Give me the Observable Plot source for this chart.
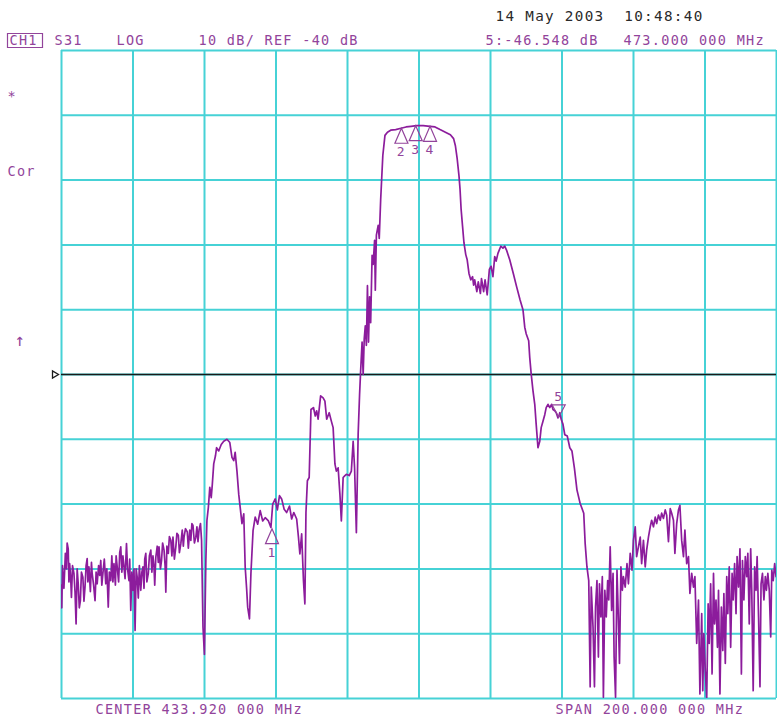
<!DOCTYPE html>
<html>
<head>
<meta charset="utf-8">
<script src="https://cdn.jsdelivr.net/npm/d3@7"></script>
<script src="https://cdn.jsdelivr.net/npm/@observablehq/plot@0.6"></script>
<style>
  html, body { margin: 0; padding: 0; background: #fff; }
</style>
</head>
<body>
<div id="chart"></div>
<script>
// Sweep settings of the network analyser
const centerMHz = 433.92;
const spanMHz = 200;
const refDb = -40;
const dbPerDiv = 10;

// Graticule positions (10 x 10 divisions)
const freqGrid = [333.92, 353.92, 373.92, 393.92, 413.92, 433.92, 453.92, 473.92, 493.92, 513.92, 533.92];
const dbGrid = [10, 0, -10, -20, -30, -40, -50, -60, -70, -80, -90];

// S31 transmission trace: [frequency MHz, level dB]
const trace = [
  [333.9,-72.5],[334.0,-76.0],[334.2,-69.5],[334.3,-70.5],[334.6,-73.0],[335.0,-67.6],[335.3,-70.0],[335.5,-66.0],
  [335.8,-66.9],[336.0,-72.0],[336.2,-69.2],[336.5,-71.5],[336.7,-74.4],[337.0,-69.5],[337.4,-70.7],[337.7,-73.5],
  [338.0,-78.5],[338.3,-70.0],[338.6,-72.3],[338.9,-76.0],[339.2,-74.9],[339.5,-70.5],[339.9,-71.3],[340.2,-75.0],
  [340.5,-72.8],[340.8,-69.5],[341.1,-68.4],[341.3,-72.0],[341.6,-69.7],[342.0,-73.5],[342.3,-69.0],[342.5,-70.7],
  [342.9,-72.5],[343.3,-74.9],[343.6,-70.5],[343.9,-72.3],[344.3,-69.5],[344.6,-71.0],[344.9,-68.7],[345.2,-72.5],
  [345.5,-70.7],[345.9,-68.5],[346.3,-72.3],[346.6,-70.0],[347.0,-75.9],[347.3,-70.5],[347.7,-71.8],[348.0,-68.0],
  [348.3,-72.0],[348.6,-69.2],[349.0,-72.5],[349.2,-68.0],[349.5,-69.7],[349.9,-72.0],[350.2,-67.5],[350.5,-66.6],
  [350.8,-70.5],[351.1,-68.0],[351.4,-69.7],[351.7,-71.5],[352.1,-66.1],[352.4,-70.0],[352.8,-71.8],[353.0,-68.5],
  [353.3,-76.4],[353.6,-70.5],[353.9,-73.3],[354.2,-70.0],[354.5,-79.5],[354.8,-70.0],[355.1,-71.3],[355.4,-74.5],
  [355.7,-69.5],[356.1,-73.3],[356.4,-70.5],[356.7,-69.7],[357.0,-73.0],[357.2,-68.5],[357.5,-67.6],[357.8,-72.0],
  [358.2,-70.7],[358.5,-68.0],[358.9,-67.1],[359.2,-70.5],[359.5,-68.0],[359.8,-69.7],[360.0,-72.5],[360.3,-68.2],
  [360.7,-66.5],[361.0,-69.0],[361.2,-66.6],[361.6,-70.0],[361.9,-68.7],[362.2,-66.0],[362.6,-67.1],[362.9,-69.5],
  [363.1,-73.6],[363.4,-66.5],[363.8,-67.6],[364.1,-65.0],[364.5,-65.6],[364.8,-68.0],[365.1,-65.1],[365.5,-68.5],
  [365.9,-66.6],[366.2,-64.5],[366.6,-64.8],[366.9,-67.5],[367.3,-66.1],[367.7,-64.0],[368.0,-66.5],[368.2,-65.1],
  [368.6,-63.8],[369.1,-64.3],[369.4,-66.8],[369.8,-64.0],[370.1,-65.6],[370.4,-63.0],[370.7,-63.3],[371.1,-66.0],
  [371.5,-65.1],[371.8,-63.5],[372.1,-65.8],[372.4,-64.0],[372.8,-63.0],[373.1,-65.6],[373.5,-79.0],[373.9,-83.2],
  [374.3,-68.7],[374.6,-62.5],
  [375.0,-60.5],[375.4,-57.4],[375.8,-59.0],[376.1,-57.0],[376.5,-53.8],[377.0,-52.5],[377.3,-51.3],[377.9,-51.8],
  [378.6,-50.8],[379.3,-50.3],[380.2,-50.0],[381.0,-50.5],[381.6,-52.8],[382.1,-53.3],[382.5,-52.0],[383.0,-54.9],
  [383.5,-58.5],[383.9,-60.5],[384.4,-63.0],[384.9,-61.5],[385.3,-69.7],[385.7,-73.0],[386.0,-75.9],[386.5,-77.7],
  [386.9,-70.8],[387.5,-64.1],[388.1,-62.0],[388.8,-63.1],[389.5,-61.0],[390.2,-62.6],[390.9,-62.1],[391.8,-62.6],
  [392.5,-63.6],[393.0,-60.0],[393.7,-59.2],[394.3,-60.9],[394.9,-58.7],[395.5,-59.2],[396.2,-60.8],[396.9,-61.3],
  [397.7,-60.3],[398.3,-62.3],[398.9,-61.3],[399.7,-62.3],[400.2,-65.1],[400.6,-67.7],[401.1,-64.6],[401.6,-71.8],
  [402.0,-75.4],[402.3,-61.3],[402.7,-56.4],[403.2,-55.9],[403.7,-45.4],[404.4,-45.1],[404.9,-46.4],[405.3,-45.6],
  [405.7,-46.9],[406.4,-43.3],[407.1,-43.6],[407.6,-44.1],[408.1,-46.9],[408.8,-45.9],[409.4,-47.2],[409.9,-48.2],
  [410.4,-53.8],[410.8,-54.9],[411.3,-54.4],[411.8,-58.5],[412.2,-62.6],[412.7,-55.9],[413.2,-55.6],[413.6,-55.4],
  [414.4,-55.6],[415.0,-54.9],[415.5,-50.3],[415.9,-54.4],[416.4,-64.4],[416.9,-49.2],[417.3,-43.1],[417.6,-39.4],
  [418.0,-35.0],[418.3,-40.0],[418.6,-34.5],[418.9,-32.5],[419.2,-35.5],[419.5,-26.3],[419.8,-35.0],[420.1,-28.0],
  [420.4,-32.0],[420.8,-21.6],[421.1,-23.0],[421.5,-19.3],[421.7,-27.0],[422.0,-18.5],[422.5,-17.0],[422.8,-19.0],
  [423.2,-13.0],[423.5,-9.6],[423.8,-6.2],
  [424.4,-3.1],[425.1,-2.6],[426.0,-2.3],[427.4,-2.2],[428.9,-2.0],[430.3,-1.8],[431.7,-1.7],[433.2,-1.6],
  [435.1,-1.6],[437.0,-1.7],[438.4,-1.8],[439.8,-2.2],[441.3,-2.6],[442.7,-3.0],[443.6,-3.6],[444.1,-4.7],
  [444.6,-6.7],[445.1,-9.3],[445.4,-11.4],[445.7,-14.5],[446.1,-17.1],[446.5,-19.7],[447.0,-21.5],[447.4,-22.3],
  [447.9,-24.4],[448.4,-25.4],[448.9,-24.9],[449.2,-26.2],[449.5,-25.4],[450.1,-27.2],[450.5,-25.7],[451.1,-27.5],
  [451.4,-25.2],[452.0,-27.2],[452.4,-25.4],[453.0,-27.7],[453.6,-23.8],[454.1,-23.3],[454.6,-24.9],[455.1,-21.8],
  [455.5,-22.5],[456.0,-21.3],[456.8,-20.2],[457.4,-20.5],[457.9,-20.2],[458.4,-20.8],[459.3,-22.3],[460.3,-24.4],
  [461.2,-26.4],[462.2,-28.5],[463.0,-30.0],[463.5,-32.7],[463.9,-33.7],[464.6,-34.8],[464.9,-37.4],[465.3,-39.9],
  [465.8,-42.5],[466.3,-44.6],[466.7,-47.7],[467.2,-51.3],[467.7,-50.3],[468.1,-48.2],[468.6,-47.2],[469.1,-46.2],
  [469.5,-45.1],[470.0,-44.6],[470.5,-45.1],[471.0,-44.6],[471.4,-45.4],[471.9,-45.6],[472.3,-45.9],[472.8,-46.7],
  [473.0,-46.5],[473.3,-45.9],[473.7,-46.9],[474.2,-47.7],[474.7,-49.3],[475.4,-49.5],[476.1,-51.3],[476.7,-51.8],
  [477.4,-54.5],[478.1,-57.8],[479.0,-59.9],[480.0,-61.4],[480.4,-66.1],[480.9,-69.7],
  [481.4,-71.8],[481.8,-88.2],[482.1,-72.8],[482.6,-79.0],[483.0,-88.2],[483.3,-75.9],[483.7,-71.8],[484.1,-83.6],
  [484.4,-72.3],[484.8,-77.4],[485.2,-71.2],[485.5,-89.8],[485.9,-73.3],[486.3,-77.4],[486.7,-71.8],[487.0,-74.8],
  [487.4,-66.6],[487.8,-76.4],[488.2,-70.7],[488.5,-83.6],[488.9,-89.8],[489.3,-70.2],[489.6,-75.9],[490.0,-84.6],
  [490.4,-69.7],[490.8,-73.3],[491.1,-71.2],[491.6,-72.8],[492.1,-69.2],[492.5,-72.3],[493.0,-67.6],[493.5,-70.2],
  [493.9,-65.6],[494.4,-63.5],[494.8,-68.1],[495.3,-66.6],[495.8,-65.1],[496.2,-69.2],[496.7,-65.6],[497.2,-69.7],
  [497.6,-67.1],[498.1,-65.1],[498.6,-63.5],[499.0,-62.5],[499.5,-63.5],[500.0,-62.0],[500.4,-63.0],[500.9,-61.7],
  [501.4,-62.5],[501.8,-61.4],[502.3,-62.2],[502.8,-60.9],[503.2,-61.7],[503.7,-65.8],[504.2,-60.7],[504.6,-61.4],
  [505.1,-62.5],[505.5,-67.6],[506.0,-63.0],[506.5,-60.9],[506.9,-60.2],[507.4,-65.6],[507.9,-68.1],[508.3,-64.0],
  [508.8,-69.2],[509.3,-68.1],[509.7,-73.8],[510.2,-70.7],[510.7,-72.8],[511.1,-71.2],[511.6,-81.5],[512.1,-74.8],
  [512.5,-89.3],[513.0,-76.9],[513.3,-88.8],[513.6,-80.0],[514.0,-85.7],[514.4,-90.0],[514.8,-75.4],[515.1,-81.5],
  [515.5,-72.3],[515.9,-86.2],[516.3,-70.7],[516.6,-78.5],[517.0,-74.8],[517.4,-82.1],[517.7,-73.3],[518.1,-89.3],
  [518.5,-75.9],[518.9,-82.6],[519.2,-73.8],[519.6,-84.6],[520.0,-71.2],[520.3,-76.9],[520.7,-69.7],[521.1,-82.1],
  [521.5,-70.7],[521.8,-74.8],[522.2,-69.2],[522.6,-76.9],[522.9,-68.1],[523.3,-72.8],[523.7,-66.9],[524.1,-86.2],
  [524.4,-68.7],[524.8,-74.8],[525.2,-68.1],[525.6,-71.2],[525.9,-67.6],[526.3,-78.5],[526.7,-66.9],[527.0,-73.3],
  [527.4,-88.8],[527.8,-69.7],[528.2,-73.3],[528.5,-68.1],[528.9,-77.4],[529.3,-88.2],[529.6,-72.3],[530.0,-70.7],
  [530.4,-74.8],[530.8,-71.2],[531.1,-73.3],[531.5,-70.7],[531.9,-73.3],[532.3,-80.5],[532.6,-70.2],[533.0,-71.8],
  [533.4,-69.2],[533.8,-71.2]
];

// Markers
const markerLabels = ["1", "2", "3", "4", "5"];
const markerFreqs = [392.8, 429.0, 433.0, 437.0, 473.0];
const markerDbs = [-63.8, -2.0, -1.6, -1.7, -46.548];
const activeMarker = "5";

// Header / footer texts
const channel = "CH1";
const parameter = "S31";
const displayFormat = "LOG";
const timestamp = "14 May 2003  10:48:40";
const sideLabels = ["*", "Cor", "\u2191"];

const mono = "DejaVu Sans Mono";
const cyan = "#46d2d6";
const tracePurple = "#8c1c9c";
const textPurple = "#92449b";

const fmtMHz = f => {
  const s = f.toFixed(6);
  return s.slice(0, -3) + " " + s.slice(-3) + " MHz";
};
const fmtDb = d => d.toFixed(3) + " dB";

const markers = markerLabels.map((label, i) => ({label, freq: markerFreqs[i], db: markerDbs[i]}));
const active = markers.find(m => m.label === activeMarker);
const passive = markers.filter(m => m.label !== activeMarker);

// Custom marker glyphs (apex sits on the measured point)
const triUp = {draw(ctx) { ctx.moveTo(0, 0); ctx.lineTo(6.5, 15); ctx.lineTo(-6.5, 15); ctx.closePath(); }};
const triDown = {draw(ctx) { ctx.moveTo(0, 0); ctx.lineTo(6.5, -12); ctx.lineTo(-6.5, -12); ctx.closePath(); }};
const refPointer = {draw(ctx) { ctx.moveTo(-9, -3.5); ctx.lineTo(-9, 3.5); ctx.lineTo(-3, 0); ctx.closePath(); }};
const chBox = {draw(ctx) { ctx.rect(-17.5, -7, 35, 14); }};

const label = (text, frameAnchor, dx, dy, extra = {}) =>
  Plot.text([text], {
    text: d => d, frameAnchor, textAnchor: "start", lineAnchor: "middle", dx, dy,
    fill: textPurple, fontSize: 13.5, fontFamily: mono, ...extra
  });

const chart = Plot.plot({
  width: 777,
  height: 719,
  marginLeft: 61,
  marginRight: 1,
  marginTop: 50,
  marginBottom: 21,
  style: "background:#fff; letter-spacing:1.3px;",
  x: {domain: [centerMHz - spanMHz / 2, centerMHz + spanMHz / 2], axis: null},
  y: {domain: [refDb - 5 * dbPerDiv, refDb + 5 * dbPerDiv], axis: null},
  marks: [
    Plot.gridX(freqGrid, {stroke: cyan, strokeOpacity: 1, strokeWidth: 2}),
    Plot.gridY(dbGrid, {stroke: cyan, strokeOpacity: 1, strokeWidth: 2}),
    Plot.ruleY([refDb], {stroke: "#1a1a1a", strokeWidth: 1.5}),
    Plot.dot([refDb], {y: d => d, frameAnchor: "left", symbol: refPointer, stroke: "#1a1a1a", fill: "none", strokeWidth: 1.3}),
    Plot.line(trace, {x: d => d[0], y: d => d[1], stroke: tracePurple, strokeWidth: 1.7, clip: true}),

    // markers 1-4 (open triangles below the trace) and the active marker 5
    Plot.dot(passive, {x: "freq", y: "db", symbol: triUp, stroke: textPurple, fill: "none", strokeWidth: 1.2}),
    Plot.text(passive, {x: "freq", y: "db", text: "label", dy: 24, fill: textPurple, fontSize: 13, fontFamily: mono}),
    Plot.dot([active], {x: "freq", y: "db", symbol: triDown, stroke: textPurple, fill: "none", strokeWidth: 1.2}),
    Plot.text([active], {x: "freq", y: "db", text: "label", dy: -20, fill: textPurple, fontSize: 13, fontFamily: mono}),

    // header line
    Plot.dot([channel], {frameAnchor: "top-left", dx: -36.5, dy: -10, symbol: chBox, stroke: textPurple, fill: "none", strokeWidth: 1.2}),
    label(channel, "top-left", -52, -10),
    label(parameter, "top-left", -7, -10),
    label(displayFormat, "top-left", 55, -10),
    label(`${dbPerDiv} dB/ REF ${refDb} dB`, "top-left", 137, -10),
    label(timestamp, "top-left", 434, -34, {fill: "#2a2a2a", fontSize: 14.3}),
    label(`${active.label}:${fmtDb(active.db)}`, "top-left", 424, -10),
    label(fmtMHz(active.freq), "top-left", 562, -10),

    // side annotations
    label(sideLabels[0], "top-left", -54, 46),
    label(sideLabels[1], "top-left", -54, 121),
    label(sideLabels[2], "top-left", -47, 290, {fontSize: 17}),

    // footer
    label(`CENTER ${fmtMHz(centerMHz)}`, "bottom-left", 34, 11),
    label(`SPAN ${fmtMHz(spanMHz)}`, "bottom-left", 494, 11)
  ]
});

document.getElementById("chart").appendChild(chart);
</script>
</body>
</html>
